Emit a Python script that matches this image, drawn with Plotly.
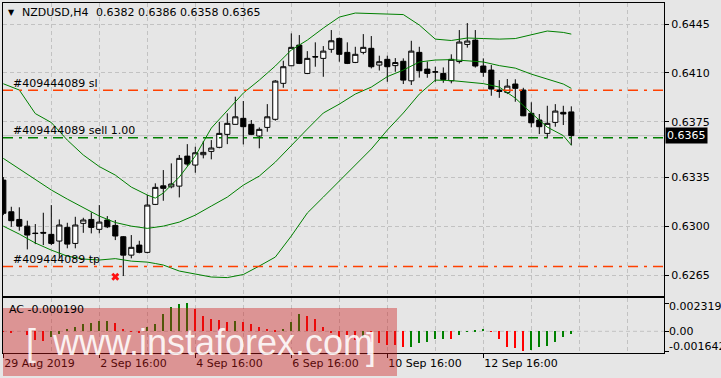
import plotly.graph_objects as go

# ---------------- data ----------------
symbol_title = "NZDUSD,H4"
last_ohlc_text = "0.6382 0.6386 0.6358 0.6365"
bars = list(range(72))
opens = [0.63331, 0.63104, 0.63049, 0.63001, 0.62951, 0.62956, 0.62942, 0.62894, 0.62992, 0.62877,
         0.63021, 0.63049, 0.62978, 0.63045, 0.63006, 0.62925, 0.62793, 0.62865, 0.62813, 0.63157,
         0.63290, 0.63283, 0.63288, 0.63503, 0.63439, 0.63513, 0.63537, 0.63566, 0.63659, 0.63731,
         0.63774, 0.63731, 0.63647, 0.63709, 0.63767, 0.64025, 0.64151, 0.64299, 0.64096, 0.64217,
         0.64204, 0.64269, 0.64347, 0.64247, 0.64175, 0.64247, 0.64276, 0.64156, 0.64197, 0.64152,
         0.64183, 0.64043, 0.64247, 0.64127, 0.64108, 0.64096, 0.64043, 0.64181, 0.64304, 0.64335,
         0.64149, 0.64120, 0.63977, 0.63960, 0.64020, 0.63977, 0.63810, 0.63762, 0.63666, 0.63745,
         0.63817, 0.63820]
highs = [0.63353, 0.63140, 0.63136, 0.63040, 0.63016, 0.63097, 0.63152, 0.63049, 0.63025, 0.63068,
         0.63061, 0.63100, 0.63152, 0.63073, 0.63045, 0.62930, 0.62937, 0.62896, 0.63224, 0.63308,
         0.63403, 0.63451, 0.63511, 0.63589, 0.63570, 0.63611, 0.63618, 0.63749, 0.63810, 0.63929,
         0.63898, 0.63762, 0.63709, 0.63876, 0.64048, 0.64187, 0.64383, 0.64371, 0.64256, 0.64319,
         0.64292, 0.64407, 0.64353, 0.64319, 0.64287, 0.64378, 0.64364, 0.64223, 0.64223, 0.64206,
         0.64204, 0.64330, 0.64287, 0.64181, 0.64144, 0.64139, 0.64233, 0.64407, 0.64457, 0.64407,
         0.64204, 0.64156, 0.64048, 0.64056, 0.64054, 0.63993, 0.63889, 0.63805, 0.63864, 0.63876,
         0.63864, 0.63860]
lows = [0.63080, 0.62996, 0.62968, 0.62834, 0.62872, 0.62865, 0.62865, 0.62770, 0.62842, 0.62842,
        0.62953, 0.62949, 0.62949, 0.62987, 0.62901, 0.62643, 0.62770, 0.62806, 0.62806, 0.63152,
        0.63183, 0.63272, 0.63207, 0.63432, 0.63384, 0.63487, 0.63480, 0.63559, 0.63589, 0.63730,
        0.63587, 0.63654, 0.63559, 0.63678, 0.63757, 0.63993, 0.64149, 0.64163, 0.64091, 0.64144,
        0.64072, 0.64244, 0.64180, 0.64163, 0.64170, 0.64233, 0.64132, 0.64117, 0.64036, 0.64108,
        0.64020, 0.64013, 0.64066, 0.64065, 0.64036, 0.64029, 0.64025, 0.64167, 0.64281, 0.64138,
        0.64072, 0.63936, 0.63921, 0.63948, 0.63893, 0.63790, 0.63709, 0.63661, 0.63630, 0.63714,
        0.63726, 0.63580]
closes = [0.63093, 0.63040, 0.63001, 0.62937, 0.62948, 0.62951, 0.62877, 0.63009, 0.62872, 0.63009,
          0.63045, 0.62992, 0.63030, 0.62996, 0.62930, 0.62793, 0.62849, 0.62813, 0.63152, 0.63279,
          0.63272, 0.63303, 0.63487, 0.63446, 0.63527, 0.63530, 0.63561, 0.63666, 0.63738, 0.63785,
          0.63714, 0.63659, 0.63695, 0.63785, 0.64041, 0.64144, 0.64283, 0.64168, 0.64204, 0.64214,
          0.64256, 0.64330, 0.64233, 0.64168, 0.64233, 0.64283, 0.64144, 0.64180, 0.64144, 0.64174,
          0.64048, 0.64256, 0.64115, 0.64096, 0.64106, 0.64052, 0.64197, 0.64321, 0.64328, 0.64149,
          0.64104, 0.63984, 0.63967, 0.64005, 0.63989, 0.63792, 0.63742, 0.63714, 0.63738, 0.63826,
          0.63805, 0.63650]

band_bars = [0, 2, 4, 6, 8, 10, 12, 14, 16, 18, 19, 20, 22, 24, 26, 28, 30, 32, 34, 36, 38,
             40, 42, 44, 46, 48, 50, 52, 54, 56, 58, 60, 62, 64, 66, 68, 70, 71]
bb_upper = [0.64022, 0.63977, 0.63808, 0.63744, 0.63618, 0.63511, 0.63428, 0.63367, 0.63281, 0.63224,
            0.63202, 0.63238, 0.63353, 0.63503, 0.63704, 0.63833, 0.63955, 0.64048, 0.64149, 0.64264,
            0.64335, 0.64421, 0.64500, 0.64529, 0.64525, 0.64522, 0.64518, 0.64443, 0.64342, 0.64332,
            0.64350, 0.64346, 0.64342, 0.64346, 0.64371, 0.64400, 0.64390, 0.64378]
bb_middle = [0.63487, 0.63410, 0.63331, 0.63260, 0.63195, 0.63131, 0.63073, 0.63027, 0.63001, 0.62985,
             0.62991, 0.63001, 0.63030, 0.63080, 0.63145, 0.63209, 0.63295, 0.63360, 0.63460, 0.63582,
             0.63697, 0.63812, 0.63876, 0.63948, 0.63998, 0.64073, 0.64120, 0.64178, 0.64192, 0.64195,
             0.64188, 0.64178, 0.64152, 0.64134, 0.64091, 0.64056, 0.64020, 0.63989]
bb_lower = [0.63001, 0.62944, 0.62880, 0.62829, 0.62786, 0.62765, 0.62758, 0.62768, 0.62750, 0.62743,
            0.62733, 0.62722, 0.62679, 0.62657, 0.62636, 0.62632, 0.62654, 0.62715, 0.62779, 0.62930,
            0.63095, 0.63209, 0.63324, 0.63432, 0.63554, 0.63690, 0.63812, 0.63948, 0.64048, 0.64045,
            0.64034, 0.64023, 0.63998, 0.63919, 0.63812, 0.63711, 0.63650, 0.63582]

ac_values = [0.00002, -0.00008, 0.00000, -0.00030, -0.00072, -0.00077, -0.00044, -0.00022, 0.00017, 0.00039,
             0.00058, 0.00066, 0.00085, 0.00087, 0.00072, 0.00019, -0.00005, -0.00017, 0.00033, 0.00061,
             0.00144, 0.00199, 0.00228, 0.002319, 0.00185, 0.00127, 0.00099, 0.00091, 0.00075, 0.00088,
             0.00075, 0.00061, 0.00039, 0.00022, 0.00005, 0.00017, 0.00080, 0.00144, 0.00127, 0.00099,
             0.00033, -0.00008, -0.00044, -0.00066, -0.00068, -0.00044, -0.00086, -0.00094, -0.00113, -0.00115,
             -0.00132, -0.00130, -0.00099, -0.00086, -0.00066, -0.00061, -0.00063, -0.00033, -0.00002, 0.00011,
             0.00019, 0.00001, -0.00066, -0.00127, -0.00141, -0.001642, -0.00155, -0.00132, -0.00119, -0.00086,
             -0.00044, -0.00019]
ac_last = -0.000190
ac_max = 0.002319
ac_min = -0.001642

price_ticks = [0.6265, 0.6300, 0.6335, 0.6375, 0.6410, 0.6445]
grid_bars = [0, 6, 12, 18, 24, 30, 36, 42, 48, 54, 60, 66, 72, 78]
label_bars = [0, 12, 24, 36, 48, 60]
label_texts = ["29 Aug 2019", "2 Sep 16:00", "4 Sep 16:00", "6 Sep 16:00", "10 Sep 16:00", "12 Sep 16:00"]

order_id = "#409444089"
sl_price = 0.63975
sell_price = 0.63635
tp_price = 0.62712
bid_price = 0.6365
closed_bar = 14
closed_price = 0.62638

# ---------------- style ----------------
W, H = 721, 378
FONT = "DejaVu Sans"
BG = "#e6e6e6"
GRID = "#c2c2c2"
GRIDDASH = "4px,3px"
BAND = "#008000"
ORDER_RED = "#ff4000"
PLOT_L, PLOT_R = 3, 664
MAIN_T, MAIN_B = 3, 296
AC_T, AC_B = 298, 353


def px_x(p):
    return p / W


def px_y(p):
    return 1 - p / H


x_range = [-0.0375, 82.5875]
fig = go.Figure()

fig.add_trace(go.Candlestick(
    x=bars, open=opens, high=highs, low=lows, close=closes,
    increasing=dict(fillcolor="white", line=dict(color="black", width=1)),
    decreasing=dict(fillcolor="black", line=dict(color="black", width=1)),
    whiskerwidth=0, xaxis="x", yaxis="y", hoverinfo="skip", showlegend=False))

for band in (bb_upper, bb_middle, bb_lower):
    fig.add_trace(go.Scatter(x=band_bars, y=band, mode="lines",
                             line=dict(color=BAND, width=1), xaxis="x", yaxis="y",
                             hoverinfo="skip", showlegend=False))

fig.add_trace(go.Scatter(x=[closed_bar], y=[closed_price], mode="markers",
                         marker=dict(symbol="x", size=7, color="#ff1010", line=dict(width=0)),
                         xaxis="x", yaxis="y", hoverinfo="skip", showlegend=False))

ac_colors = ["#ff0000"]
for i in range(1, len(ac_values)):
    ac_colors.append("#008000" if ac_values[i] > ac_values[i - 1] else "#ff0000")
fig.add_trace(go.Bar(x=bars, y=ac_values, width=0.11, marker=dict(color=ac_colors, line=dict(width=0)),
                     xaxis="x2", yaxis="y2", hoverinfo="skip", showlegend=False))

shapes = []
shapes.append(dict(type="line", xref="x domain", yref="y", x0=0, x1=1, y0=bid_price, y1=bid_price,
                   line=dict(color="#c0c0c0", width=1), layer="below"))
for price, col in ((sl_price, ORDER_RED), (sell_price, "#008000"), (tp_price, ORDER_RED)):
    shapes.append(dict(type="line", xref="x domain", yref="y", x0=0, x1=1, y0=price, y1=price,
                       line=dict(color=col, width=1.5, dash="10px,6px,3px,6px"), layer="above"))
# zero line of AC
shapes.append(dict(type="line", xref="x2 domain", yref="y2", x0=0, x1=1, y0=0, y1=0,
                   line=dict(color=GRID, width=1, dash=GRIDDASH), layer="below"))
# watermark box
shapes.append(dict(type="rect", xref="paper", yref="paper", x0=px_x(3), x1=px_x(397),
                   y0=px_y(376), y1=px_y(308), fillcolor="rgba(205,25,25,0.40)",
                   line=dict(width=0), layer="above"))

tf = dict(family=FONT, size=11, color="black")
ann = []
ann.append(dict(text="▼", xref="paper", yref="paper", x=px_x(6), y=px_y(12), xanchor="left",
                yanchor="middle", showarrow=False, font=dict(family=FONT, size=8, color="black")))
ann.append(dict(text=symbol_title, xref="paper", yref="paper", x=px_x(20), y=px_y(12.8), xanchor="left",
                yanchor="middle", showarrow=False, font=tf))
ann.append(dict(text=last_ohlc_text, xref="paper", yref="paper", x=px_x(94), y=px_y(12.8), xanchor="left",
                yanchor="middle", showarrow=False, font=tf))
for price, label in ((sl_price, order_id + " sl"), (sell_price, order_id + " sell 1.00"),
                     (tp_price, order_id + " tp")):
    ann.append(dict(text=label, xref="paper", yref="y", x=px_x(11), y=price, yshift=7,
                    xanchor="left", yanchor="middle", showarrow=False, font=tf))
ann.append(dict(text="%.4f" % bid_price, xref="paper", yref="y", x=px_x(PLOT_R + 1), y=bid_price,
                xanchor="left", yanchor="middle", showarrow=False, bgcolor="black", borderpad=1,
                font=dict(family=FONT, size=11, color="white")))
ann.append(dict(text="AC %.6f" % ac_last, xref="paper", yref="paper", x=px_x(7), y=px_y(309.5),
                xanchor="left", yanchor="middle", showarrow=False, font=tf))
for val, ypix, txt in ((ac_max, 306.7, "%.6f" % ac_max), (0, 331.3, "0.00"), (ac_min, 346.7, "%.6f" % ac_min)):
    ann.append(dict(text=txt, xref="paper", yref="paper", x=px_x(667), y=px_y(ypix),
                    xanchor="left", yanchor="middle", showarrow=False, font=tf))
# watermark text
wm_font = dict(family="Liberation Sans", size=36, color="rgba(255,255,255,0.88)")
ann.append(dict(text="[", xref="paper", yref="paper", x=px_x(24), y=px_y(342), xanchor="left",
                yanchor="middle", showarrow=False, font=wm_font))
ann.append(dict(text="www.instaforex.com", xref="paper", yref="paper", x=px_x(50), y=px_y(342),
                xanchor="left", yanchor="middle", showarrow=False, font=wm_font))
ann.append(dict(text="]", xref="paper", yref="paper", x=px_x(364), y=px_y(346), xanchor="left",
                yanchor="middle", showarrow=False, font=wm_font))

xdom = [px_x(PLOT_L), px_x(PLOT_R)]
common_x = dict(domain=xdom, range=x_range, showline=True, mirror=True, linecolor="black", linewidth=1,
                zeroline=False, fixedrange=True)
fig.update_layout(
    width=W, height=H, margin=dict(l=0, r=0, t=0, b=0),
    paper_bgcolor=BG, plot_bgcolor=BG, showlegend=False,
    boxgap=0.2, boxgroupgap=0.2, bargap=0,
    xaxis=dict(**common_x, anchor="y", rangeslider=dict(visible=False), tickvals=grid_bars,
               showticklabels=False, ticks="", showgrid=True, gridcolor=GRID, griddash=GRIDDASH, gridwidth=1),
    yaxis=dict(domain=[px_y(MAIN_B), px_y(MAIN_T)], range=[0.62500, 0.64601], anchor="x", side="right",
               tickvals=price_ticks, tickformat=".4f", ticks="outside", ticklen=4, tickcolor="black",
               showgrid=True, gridcolor=GRID, griddash=GRIDDASH, gridwidth=1, showline=True, mirror=True,
               linecolor="black", linewidth=1, zeroline=False, tickfont=tf, fixedrange=True),
    xaxis2=dict(**common_x, anchor="y2", tickvals=label_bars, ticktext=label_texts, ticks="outside",
                ticklen=4, tickcolor="black", ticklabelposition="outside right", tickfont=tf,
                showgrid=True, gridcolor=GRID, griddash=GRIDDASH, gridwidth=1,
                minor=dict(tickvals=grid_bars, showgrid=True, gridcolor=GRID, griddash=GRIDDASH, ticks="")),
    yaxis2=dict(domain=[px_y(AC_B), px_y(AC_T)], range=[-0.001797, 0.002757], anchor="x2", side="right",
                tickvals=[ac_min, 0, ac_max], showticklabels=False, ticks="outside", ticklen=4,
                tickcolor="black", showgrid=False, showline=True, mirror=True, linecolor="black",
                linewidth=1, zeroline=False, fixedrange=True),
    shapes=shapes, annotations=ann,
)

fig.write_html("out.html")
